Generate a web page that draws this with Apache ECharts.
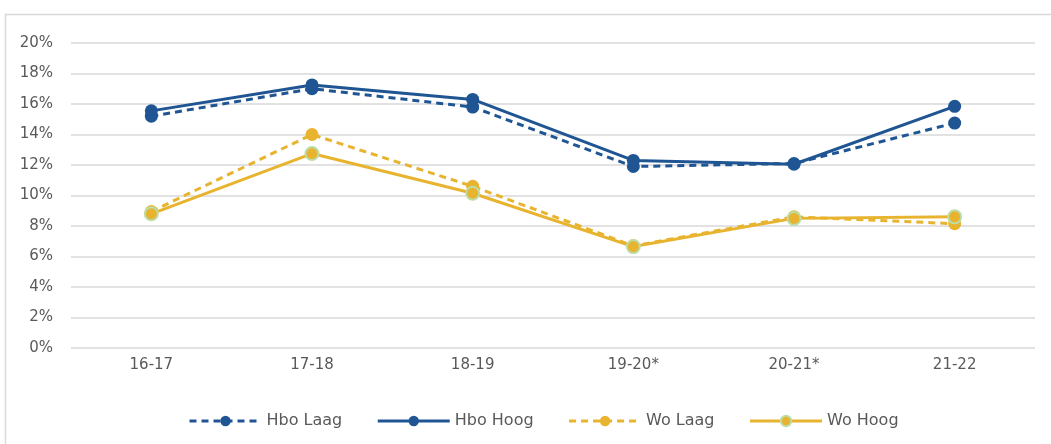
<!DOCTYPE html>
<html>
<head>
<meta charset="utf-8">
<script src="https://cdn.jsdelivr.net/npm/echarts@6/dist/echarts.min.js"></script>
<style>
html,body{margin:0;padding:0;background:#fff;}
#chart{width:1051px;height:444px;}
</style>
</head>
<body>
<div id="chart"></div>
<script>
const categories = ['16-17', '17-18', '18-19', '19-20*', '20-21*', '21-22'];
const hboLaag = [15.2, 17.0, 15.8, 11.9, 12.1, 14.75];
const hboHoog = [15.55, 17.25, 16.3, 12.3, 12.05, 15.85];
const woLaag = [8.95, 14.0, 10.6, 6.7, 8.6, 8.15];
const woHoog = [8.8, 12.75, 10.15, 6.65, 8.5, 8.6];
const yTicks = { min: 0, max: 20, interval: 2 };

const BLUE = '#1F5593';
const GOLD = '#E8B430';
const FONT = 'DejaVu Sans';

const chart = echarts.init(document.getElementById('chart'), null, { renderer: 'canvas' });

function series(name, data, color, dashed, border) {
  return {
    name: name,
    type: 'line',
    data: data,
    symbol: 'circle',
    symbolSize: 13,
    lineStyle: { color: color, width: 3, type: dashed ? [7, 5] : 'solid' },
    itemStyle: { color: color, borderColor: border || color, borderWidth: border ? 2 : 0 },
    emphasis: { disabled: true },
    animation: false
  };
}

chart.setOption({
  animation: false,
  backgroundColor: '#ffffff',
  textStyle: { fontFamily: FONT },
  graphic: [{
    type: 'rect',
    shape: { x: 5.5, y: 14.5, width: 1100, height: 500 },
    style: { fill: 'none', stroke: '#D9D9D9', lineWidth: 1.5 },
    silent: true
  }],
  grid: { left: 71, right: 16, top: 43, bottom: 96 },
  legend: {
    left: 183,
    top: 408,
    itemWidth: 72,
    itemHeight: 13,
    itemGap: 34,
    lineStyle: { width: 3 },
    textStyle: { fontFamily: FONT, fontSize: 16, color: '#595959' },
    data: ['Hbo Laag', 'Hbo Hoog', 'Wo Laag', 'Wo Hoog']
  },
  xAxis: {
    type: 'category',
    data: categories,
    boundaryGap: true,
    axisLine: { show: false },
    axisTick: { show: false },
    axisLabel: { fontFamily: FONT, fontSize: 15, color: '#595959', margin: 10 }
  },
  yAxis: {
    type: 'value',
    min: yTicks.min,
    max: yTicks.max,
    interval: yTicks.interval,
    axisLine: { show: false },
    axisTick: { show: false },
    splitLine: { lineStyle: { color: '#D9D9D9', width: 1.5 } },
    axisLabel: { fontFamily: FONT, fontSize: 15, color: '#595959', margin: 18, formatter: '{value}%' }
  },
  series: [
    series('Hbo Laag', hboLaag, BLUE, true),
    series('Hbo Hoog', hboHoog, BLUE, false),
    series('Wo Laag', woLaag, GOLD, true),
    series('Wo Hoog', woHoog, GOLD, false, '#BDDCA6')
  ]
});
</script>
</body>
</html>
